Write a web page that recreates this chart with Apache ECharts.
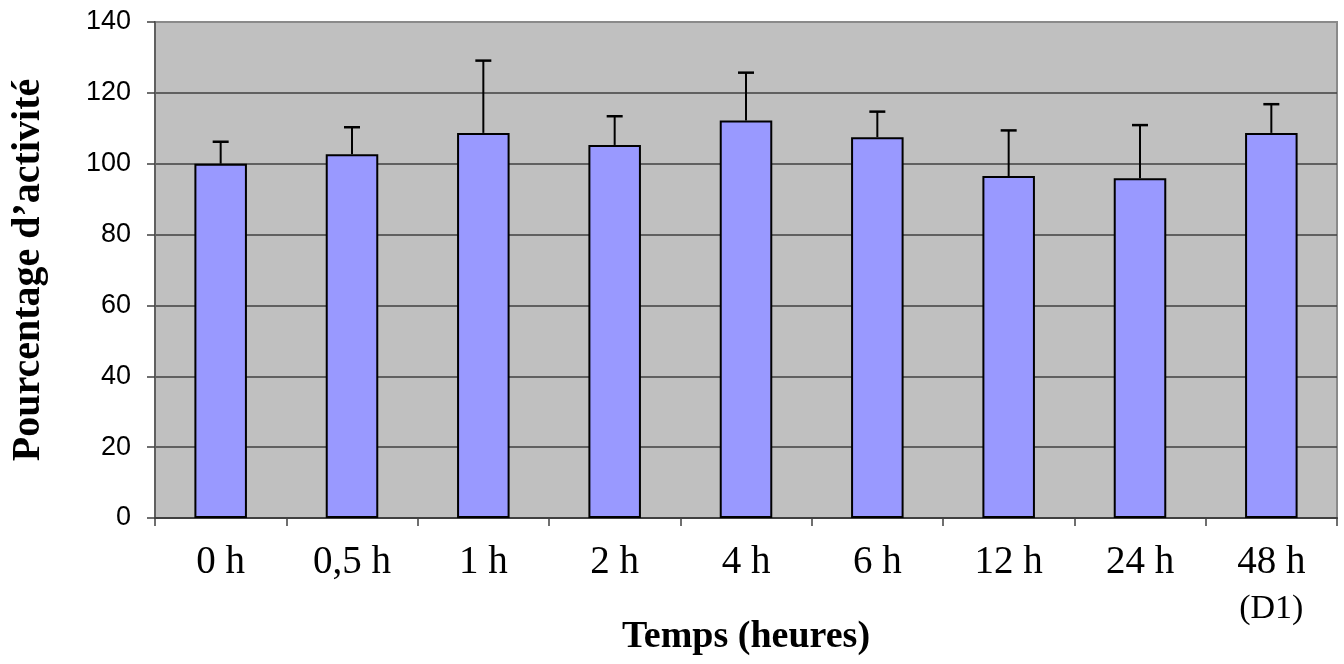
<!DOCTYPE html>
<html>
<head>
<meta charset="utf-8">
<script src="https://cdn.jsdelivr.net/npm/echarts@6/dist/echarts.min.js"></script>
<style>
html,body{margin:0;padding:0;background:#fff;}
#chart{width:1344px;height:664px;}
</style>
</head>
<body>
<div id="chart"></div>
<script>
var categories = ['0 h', '0,5 h', '1 h', '2 h', '4 h', '6 h', '12 h', '24 h', '48 h'];
var means = [100, 102.7, 108.7, 105.3, 112.2, 107.5, 96.5, 95.9, 108.7];
var errors = [6.2, 7.6, 20.4, 8.1, 13.5, 7.2, 12.9, 15.0, 8.1];
var yTicks = [0, 20, 40, 60, 80, 100, 120, 140];

var chart = echarts.init(document.getElementById('chart'));
var errData = means.map(function (m, i) { return [i, m, m + errors[i]]; });

chart.setOption({
  animation: false,
  grid: {
    left: 155, right: 7, top: 22, bottom: 146,
    containLabel: false,
    outerBoundsMode: 'none',
    show: true, backgroundColor: '#C0C0C0', borderColor: '#8a8a8a', borderWidth: 2
  },
  xAxis: {
    type: 'category',
    data: categories,
    boundaryGap: true,
    axisLine: { lineStyle: { color: '#404040', width: 2 } },
    axisTick: { show: true, interval: 0, length: 8, lineStyle: { color: '#404040', width: 1.5 } },
    axisLabel: {
      interval: 0,
      margin: 23,
      fontFamily: 'Liberation Serif',
      fontSize: 39,
      color: '#000',
      formatter: function (v) { return v === '48 h' ? '{a|48 h}\n{b|(D1)}' : '{a|' + v + '}'; },
      rich: {
        a: { fontFamily: 'Liberation Serif', fontSize: 39, color: '#000', lineHeight: 44 },
        b: { fontFamily: 'Liberation Serif', fontSize: 34, color: '#000', lineHeight: 48 }
      },
      verticalAlign: 'top'
    },
    name: 'Temps (heures)',
    nameLocation: 'middle',
    nameGap: 100,
    nameMoveOverlap: false,
    nameTextStyle: { fontFamily: 'Liberation Serif', fontWeight: 'bold', fontSize: 38, color: '#000' }
  },
  yAxis: {
    type: 'value',
    min: 0, max: 140, interval: 20,
    axisLine: { show: true, lineStyle: { color: '#606060', width: 2 } },
    axisTick: { show: true, length: 8, lineStyle: { color: '#404040', width: 1.5 } },
    splitLine: { show: true, lineStyle: { color: ['#404040','#404040','#404040','#404040','#404040','#404040','#404040','#8a8a8a'], width: 1.5 } },
    axisLabel: {
      margin: 24,
      fontFamily: 'Liberation Sans',
      fontSize: 27,
      color: '#000',
      formatter: function (v) { return yTicks.indexOf(v) >= 0 ? String(v) : ''; }
    },
    name: 'Pourcentage d\u2019activité',
    nameLocation: 'middle',
    nameGap: 106,
    nameMoveOverlap: false,
    nameTextStyle: { fontFamily: 'Liberation Serif', fontWeight: 'bold', fontSize: 40, color: '#000' }
  },
  series: [
    {
      type: 'bar',
      data: means,
      barWidth: '40%',
      itemStyle: { color: '#9999FF', borderColor: '#000', borderWidth: 2 },
      z: 2
    },
    {
      type: 'custom',
      data: errData,
      z: 3,
      renderItem: function (params, api) {
        var x = api.coord([api.value(0), api.value(1)]);
        var top = api.coord([api.value(0), api.value(2)]);
        var half = 8;
        return {
          type: 'group',
          children: [
            { type: 'line', shape: { x1: x[0], y1: x[1], x2: top[0], y2: top[1] }, style: { stroke: '#000', lineWidth: 2 } },
            { type: 'line', shape: { x1: top[0] - half, y1: top[1], x2: top[0] + half, y2: top[1] }, style: { stroke: '#000', lineWidth: 2.5 } }
          ]
        };
      }
    }
  ]
});
</script>
</body>
</html>
